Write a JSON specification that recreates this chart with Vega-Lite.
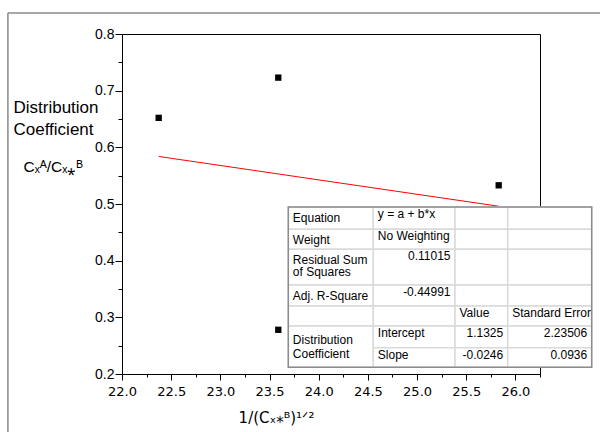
{
  "$schema": "https://vega.github.io/schema/vega-lite/v6.json",
  "width": 418,
  "height": 340,
  "autosize": {"type": "none"},
  "padding": {"left": 122, "top": 34, "right": 60, "bottom": 58},
  "background": "white",
  "config": {
    "view": {"stroke": "#000000", "strokeWidth": 1},
    "axis": {"domainColor": "#000000", "tickColor": "#000000", "labelColor": "#000000", "titleColor": "#000000", "grid": false, "titleFontWeight": "normal"}
  },
  "datasets": {
    "pts": [
      {"x": 22.373, "y": 0.652},
      {"x": 23.589, "y": 0.723},
      {"x": 23.589, "y": 0.278},
      {"x": 25.83, "y": 0.533}
    ],
    "cells": [
      {"c0": 0, "c1": 1, "r0": 0, "r1": 1}, {"c0": 1, "c1": 2, "r0": 0, "r1": 1}, {"c0": 2, "c1": 3, "r0": 0, "r1": 1}, {"c0": 3, "c1": 4, "r0": 0, "r1": 1},
      {"c0": 0, "c1": 1, "r0": 1, "r1": 2}, {"c0": 1, "c1": 2, "r0": 1, "r1": 2}, {"c0": 2, "c1": 3, "r0": 1, "r1": 2}, {"c0": 3, "c1": 4, "r0": 1, "r1": 2},
      {"c0": 0, "c1": 1, "r0": 2, "r1": 3}, {"c0": 1, "c1": 2, "r0": 2, "r1": 3}, {"c0": 2, "c1": 3, "r0": 2, "r1": 3}, {"c0": 3, "c1": 4, "r0": 2, "r1": 3},
      {"c0": 0, "c1": 1, "r0": 3, "r1": 4}, {"c0": 1, "c1": 2, "r0": 3, "r1": 4}, {"c0": 2, "c1": 3, "r0": 3, "r1": 4}, {"c0": 3, "c1": 4, "r0": 3, "r1": 4},
      {"c0": 0, "c1": 1, "r0": 4, "r1": 5}, {"c0": 1, "c1": 2, "r0": 4, "r1": 5}, {"c0": 2, "c1": 3, "r0": 4, "r1": 5}, {"c0": 3, "c1": 4, "r0": 4, "r1": 5},
      {"c0": 0, "c1": 1, "r0": 5, "r1": 7},
      {"c0": 1, "c1": 2, "r0": 5, "r1": 6}, {"c0": 2, "c1": 3, "r0": 5, "r1": 6}, {"c0": 3, "c1": 4, "r0": 5, "r1": 6},
      {"c0": 1, "c1": 2, "r0": 6, "r1": 7}, {"c0": 2, "c1": 3, "r0": 6, "r1": 7}, {"c0": 3, "c1": 4, "r0": 6, "r1": 7}
    ],
    "tframe": [{"c0": 0, "c1": 4, "r0": 0, "r1": 7}],
    "texts": [
      {"kind": "label", "col": 0, "row": 0, "text": "Equation"},
      {"kind": "label", "col": 0, "row": 1, "text": "Weight"},
      {"kind": "label", "col": 0, "row": 2, "text": "Residual Sum\nof Squares"},
      {"kind": "label", "col": 0, "row": 3, "text": "Adj. R-Square"},
      {"kind": "spanlabel", "col": 0, "row": 5, "text": "Distribution\nCoefficient"},
      {"kind": "text", "col": 1, "row": 0, "text": "y = a + b*x"},
      {"kind": "text", "col": 1, "row": 1, "text": "No Weighting"},
      {"kind": "text", "col": 2, "row": 4, "text": "Value"},
      {"kind": "text", "col": 3, "row": 4, "text": "Standard Error"},
      {"kind": "text", "col": 1, "row": 5, "text": "Intercept"},
      {"kind": "text", "col": 1, "row": 6, "text": "Slope"},
      {"kind": "number", "col": 2, "row": 2, "text": "0.11015"},
      {"kind": "number", "col": 2, "row": 3, "text": "-0.44991"},
      {"kind": "number", "col": 3, "row": 5, "text": "1.1325"},
      {"kind": "number", "col": 4, "row": 5, "text": "2.23506"},
      {"kind": "number", "col": 3, "row": 6, "text": "-0.0246"},
      {"kind": "number", "col": 4, "row": 6, "text": "0.0936"}
    ]
  },
  "layer": [
    {
      "layer": [
        {
          "data": {"values": [{}]},
          "mark": {"type": "rule", "color": "#8a8a8a", "strokeWidth": 1.5, "clip": false},
          "encoding": {
            "x": {"datum": 20.84, "type": "quantitative", "axis": null},
            "x2": {"datum": 26.95},
            "y": {"datum": 0.837, "type": "quantitative", "axis": null}
          }
        },
        {
          "data": {"values": [{}]},
          "mark": {"type": "rule", "color": "#8a8a8a", "strokeWidth": 1.5, "clip": false},
          "encoding": {
            "x": {"datum": 20.84, "type": "quantitative", "axis": null},
            "y": {"datum": 0.837, "type": "quantitative", "axis": null},
            "y2": {"datum": 0.0}
          }
        },
        {
          "data": {"name": "pts"},
          "transform": [{"regression": "y", "on": "x"}],
          "mark": {"type": "line", "color": "#ff0000", "strokeWidth": 1},
          "encoding": {
            "x": {"field": "x", "type": "quantitative", "axis": {"orient": "bottom", "values": [22.25, 22.75, 23.25, 23.75, 24.25, 24.75, 25.25, 25.75, 26.25], "labels": false, "domain": false, "tickSize": 3, "title": null}},
            "y": {"field": "y", "type": "quantitative", "axis": {"orient": "left", "values": [0.25, 0.35, 0.45, 0.55, 0.65, 0.75], "labels": false, "domain": false, "tickSize": 4, "title": "Cₓᴬ/Cₓ⁎ᴮ", "titleAngle": 0, "titleAlign": "left", "titleBaseline": "alphabetic", "titleX": -99, "titleY": 137, "titleFont": "Liberation Sans", "titleFontSize": 15.5}}
          }
        },
        {
          "data": {"name": "pts"},
          "mark": {"type": "point", "shape": "square", "filled": true, "size": 40, "color": "#000000", "opacity": 1},
          "encoding": {
            "x": {"field": "x", "type": "quantitative", "scale": {"domain": [22, 26.25], "nice": false, "zero": false},
              "axis": {"orient": "bottom", "values": [22, 22.5, 23, 23.5, 24, 24.5, 25, 25.5, 26], "format": ".1f", "tickSize": 6, "labelFont": "DejaVu Sans", "labelFontSize": 13, "labelPadding": 5, "labelFlush": false,
                "title": "1/(Cₓ⁎ᴮ)¹ᐟ²", "titleFont": "DejaVu Sans", "titleFontSize": 15, "titleX": 154, "titleY": 48, "titleAlign": "center", "titleBaseline": "alphabetic"}},
            "y": {"field": "y", "type": "quantitative", "scale": {"domain": [0.2, 0.8], "nice": false, "zero": false},
              "axis": {"orient": "left", "values": [0.2, 0.3, 0.4, 0.5, 0.6, 0.7, 0.8], "format": ".1f", "tickSize": 7, "labelFont": "Liberation Sans", "labelFontSize": 14, "labelPadding": 1, "labelFlush": false,
                "title": ["Distribution", "Coefficient"], "titleAngle": 0, "titleAlign": "left", "titleBaseline": "alphabetic", "titleX": -109, "titleY": 78, "titleFont": "Liberation Sans", "titleFontSize": 17, "titleLineHeight": 22}}
          }
        }
      ],
      "resolve": {"axis": {"x": "independent", "y": "independent"}}
    },
    {
      "layer": [
        {
          "data": {"name": "cells"},
          "mark": {"type": "rect", "fill": "#ffffff", "stroke": "#d9d9d9", "strokeWidth": 1.5},
          "encoding": {
            "x": {"field": "c0", "type": "quantitative", "scale": {"domain": [0, 1, 2, 3, 4], "range": [166.3, 251.3, 333, 385.7, 469.7], "nice": false, "zero": false}, "axis": null},
            "x2": {"field": "c1"},
            "y": {"field": "r0", "type": "quantitative", "scale": {"domain": [0, 1, 2, 3, 4, 5, 6, 7], "range": [173, 195.3, 215.3, 251, 272, 292, 313.7, 333.3], "nice": false, "zero": false}, "axis": null},
            "y2": {"field": "r1"}
          }
        },
        {
          "data": {"name": "tframe"},
          "mark": {"type": "rect", "fill": "#ffffff", "fillOpacity": 0, "stroke": "#8c8c8c", "strokeWidth": 1.5},
          "encoding": {
            "x": {"field": "c0", "type": "quantitative", "axis": null},
            "x2": {"field": "c1"},
            "y": {"field": "r0", "type": "quantitative", "axis": null},
            "y2": {"field": "r1"}
          }
        },
        {
          "data": {"name": "texts"},
          "transform": [{"filter": "datum.kind === 'label'"}],
          "mark": {"type": "text", "align": "left", "baseline": "alphabetic", "dx": 4.5, "dy": 14.5, "font": "Liberation Sans", "fontSize": 12, "lineBreak": "\n", "lineHeight": 12.5, "color": "#000000"},
          "encoding": {
            "x": {"field": "col", "type": "quantitative", "axis": null},
            "y": {"field": "row", "type": "quantitative", "axis": null},
            "text": {"field": "text"}
          }
        },
        {
          "data": {"name": "texts"},
          "transform": [{"filter": "datum.kind === 'spanlabel'"}],
          "mark": {"type": "text", "align": "left", "baseline": "alphabetic", "dx": 4.5, "dy": 18, "font": "Liberation Sans", "fontSize": 12, "lineBreak": "\n", "lineHeight": 13.5, "color": "#000000"},
          "encoding": {
            "x": {"field": "col", "type": "quantitative", "axis": null},
            "y": {"field": "row", "type": "quantitative", "axis": null},
            "text": {"field": "text"}
          }
        },
        {
          "data": {"name": "texts"},
          "transform": [{"filter": "datum.kind === 'text'"}],
          "mark": {"type": "text", "align": "left", "baseline": "alphabetic", "dx": 4.5, "dy": 11, "font": "Liberation Sans", "fontSize": 12, "color": "#000000"},
          "encoding": {
            "x": {"field": "col", "type": "quantitative", "axis": null},
            "y": {"field": "row", "type": "quantitative", "axis": null},
            "text": {"field": "text"}
          }
        },
        {
          "data": {"name": "texts"},
          "transform": [{"filter": "datum.kind === 'number'"}],
          "mark": {"type": "text", "align": "right", "baseline": "alphabetic", "dx": -4.5, "dy": 11, "font": "Liberation Sans", "fontSize": 12, "color": "#000000"},
          "encoding": {
            "x": {"field": "col", "type": "quantitative", "axis": null},
            "y": {"field": "row", "type": "quantitative", "axis": null},
            "text": {"field": "text"}
          }
        }
      ]
    }
  ],
  "resolve": {"scale": {"x": "independent", "y": "independent"}}
}
